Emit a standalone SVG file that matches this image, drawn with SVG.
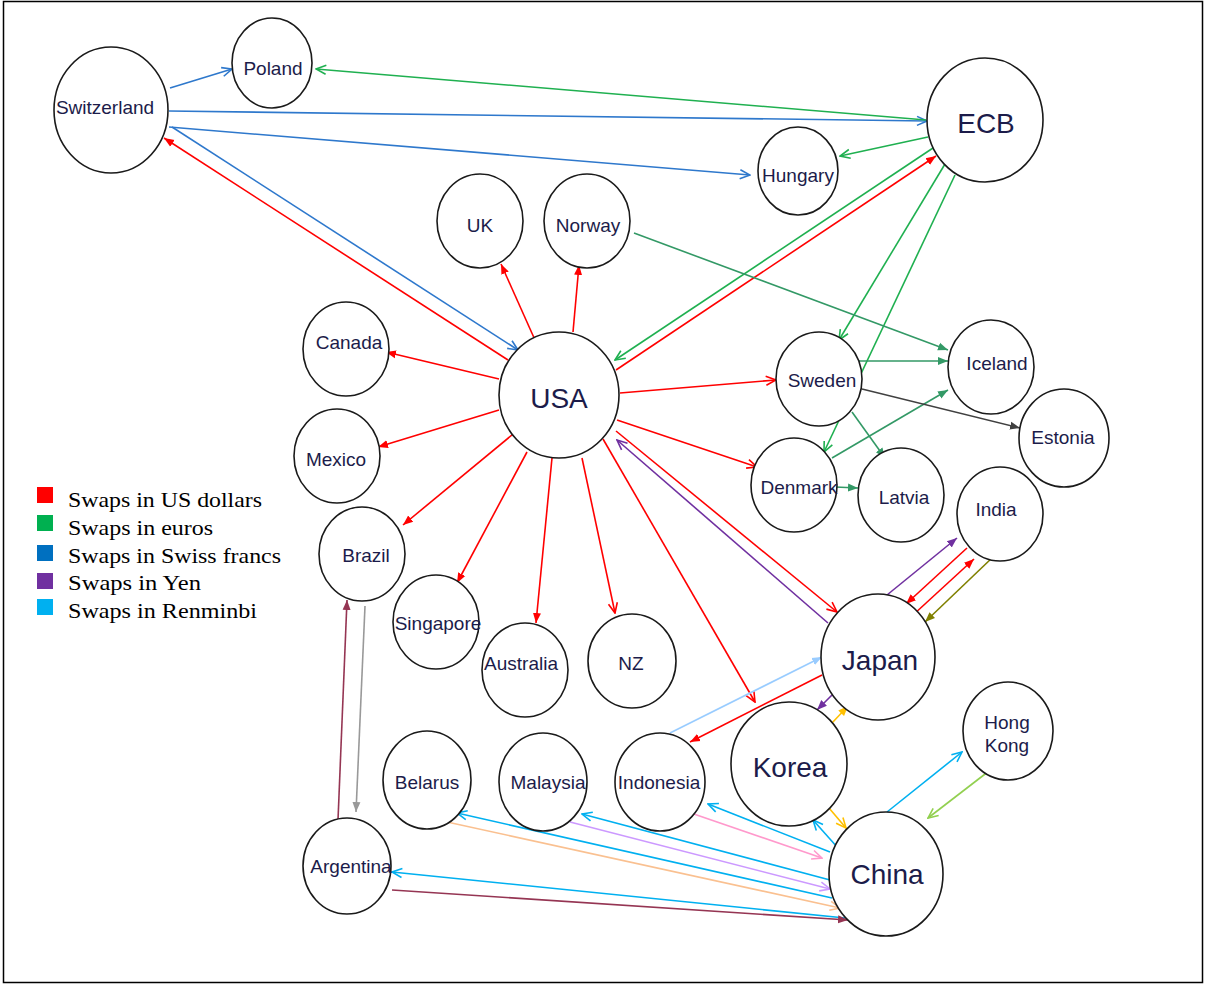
<svg xmlns="http://www.w3.org/2000/svg" width="1205" height="985" viewBox="0 0 1205 985">
<style>
.n ellipse{fill:#fff;stroke:#1a1a1a;stroke-width:1.6}
.n text{font-family:"Liberation Sans",Arial,sans-serif;font-size:19px;fill:#1c1c4a;text-anchor:middle}
.n text.b{font-size:28px}
#edges line{stroke-width:1.6;fill:none}
.R{stroke:#ff0000}.B{stroke:#2e78cc}.G{stroke:#1fb050}.SG{stroke:#339966}.DG{stroke:#404040}
.P{stroke:#7030a0}.LB{stroke:#99ccff}.Y{stroke:#ffc000}.C{stroke:#00b0f0}.LG{stroke:#92d050}
.PK{stroke:#ff99cc}.LV{stroke:#cc99ff}.PE{stroke:#fac090}.M{stroke:#953553}.GR{stroke:#999999}.OL{stroke:#808000}
.lg{font-family:"Liberation Serif","Times New Roman",serif;font-size:22px;fill:#000}
</style>
<defs>
<marker id="oB" viewBox="0 0 12 12" refX="11" refY="6" markerWidth="12" markerHeight="12" markerUnits="userSpaceOnUse" orient="auto"><path d="M1,1.5 L11,6 L1,10.5" fill="none" stroke="#2e78cc" stroke-width="1.6"/></marker>
<marker id="oG" viewBox="0 0 12 12" refX="11" refY="6" markerWidth="12" markerHeight="12" markerUnits="userSpaceOnUse" orient="auto"><path d="M1,1.5 L11,6 L1,10.5" fill="none" stroke="#1fb050" stroke-width="1.6"/></marker>
<marker id="oR" viewBox="0 0 12 12" refX="11" refY="6" markerWidth="12" markerHeight="12" markerUnits="userSpaceOnUse" orient="auto"><path d="M1,1.5 L11,6 L1,10.5" fill="none" stroke="#ff0000" stroke-width="1.6"/></marker>
<marker id="oP" viewBox="0 0 12 12" refX="11" refY="6" markerWidth="12" markerHeight="12" markerUnits="userSpaceOnUse" orient="auto"><path d="M1,1.5 L11,6 L1,10.5" fill="none" stroke="#7030a0" stroke-width="1.6"/></marker>
<marker id="oY" viewBox="0 0 12 12" refX="11" refY="6" markerWidth="12" markerHeight="12" markerUnits="userSpaceOnUse" orient="auto"><path d="M1,1.5 L11,6 L1,10.5" fill="none" stroke="#ffc000" stroke-width="1.6"/></marker>
<marker id="oC" viewBox="0 0 12 12" refX="11" refY="6" markerWidth="12" markerHeight="12" markerUnits="userSpaceOnUse" orient="auto"><path d="M1,1.5 L11,6 L1,10.5" fill="none" stroke="#00b0f0" stroke-width="1.6"/></marker>
<marker id="oLG" viewBox="0 0 12 12" refX="11" refY="6" markerWidth="12" markerHeight="12" markerUnits="userSpaceOnUse" orient="auto"><path d="M1,1.5 L11,6 L1,10.5" fill="none" stroke="#92d050" stroke-width="1.6"/></marker>
<marker id="oPK" viewBox="0 0 12 12" refX="11" refY="6" markerWidth="12" markerHeight="12" markerUnits="userSpaceOnUse" orient="auto"><path d="M1,1.5 L11,6 L1,10.5" fill="none" stroke="#ff99cc" stroke-width="1.6"/></marker>
<marker id="oLV" viewBox="0 0 12 12" refX="11" refY="6" markerWidth="12" markerHeight="12" markerUnits="userSpaceOnUse" orient="auto"><path d="M1,1.5 L11,6 L1,10.5" fill="none" stroke="#cc99ff" stroke-width="1.6"/></marker>
<marker id="oPE" viewBox="0 0 12 12" refX="11" refY="6" markerWidth="12" markerHeight="12" markerUnits="userSpaceOnUse" orient="auto"><path d="M1,1.5 L11,6 L1,10.5" fill="none" stroke="#fac090" stroke-width="1.6"/></marker>
<marker id="fR" viewBox="0 0 10 10" refX="10" refY="5" markerWidth="10" markerHeight="10" markerUnits="userSpaceOnUse" orient="auto"><path d="M0,1 L10,5 L0,9 Z" fill="#ff0000"/></marker>
<marker id="fSG" viewBox="0 0 10 10" refX="10" refY="5" markerWidth="10" markerHeight="10" markerUnits="userSpaceOnUse" orient="auto"><path d="M0,1 L10,5 L0,9 Z" fill="#339966"/></marker>
<marker id="fDG" viewBox="0 0 10 10" refX="10" refY="5" markerWidth="10" markerHeight="10" markerUnits="userSpaceOnUse" orient="auto"><path d="M0,1 L10,5 L0,9 Z" fill="#404040"/></marker>
<marker id="fP" viewBox="0 0 10 10" refX="10" refY="5" markerWidth="10" markerHeight="10" markerUnits="userSpaceOnUse" orient="auto"><path d="M0,1 L10,5 L0,9 Z" fill="#7030a0"/></marker>
<marker id="fLB" viewBox="0 0 10 10" refX="10" refY="5" markerWidth="10" markerHeight="10" markerUnits="userSpaceOnUse" orient="auto"><path d="M0,1 L10,5 L0,9 Z" fill="#99ccff"/></marker>
<marker id="fY" viewBox="0 0 10 10" refX="10" refY="5" markerWidth="10" markerHeight="10" markerUnits="userSpaceOnUse" orient="auto"><path d="M0,1 L10,5 L0,9 Z" fill="#ffc000"/></marker>
<marker id="fOL" viewBox="0 0 10 10" refX="10" refY="5" markerWidth="10" markerHeight="10" markerUnits="userSpaceOnUse" orient="auto"><path d="M0,1 L10,5 L0,9 Z" fill="#808000"/></marker>
<marker id="fM" viewBox="0 0 10 10" refX="10" refY="5" markerWidth="10" markerHeight="10" markerUnits="userSpaceOnUse" orient="auto"><path d="M0,1 L10,5 L0,9 Z" fill="#953553"/></marker>
<marker id="fGR" viewBox="0 0 10 10" refX="10" refY="5" markerWidth="10" markerHeight="10" markerUnits="userSpaceOnUse" orient="auto"><path d="M0,1 L10,5 L0,9 Z" fill="#999999"/></marker>
</defs>
<rect x="0" y="0" width="1205" height="985" fill="#fff"/>
<rect x="3.5" y="1.5" width="1199" height="981" fill="none" stroke="#000" stroke-width="1.5"/>

<g id="edges">
<line class="B" x1="170" y1="88" x2="232" y2="69" marker-end="url(#oB)"/>
<line class="B" x1="169" y1="111" x2="927" y2="121" marker-end="url(#oB)"/>
<line class="B" x1="169" y1="127" x2="750" y2="175" marker-end="url(#oB)"/>
<line class="B" x1="172" y1="127" x2="518" y2="350" marker-end="url(#oB)"/>
<line class="R" x1="508" y1="360" x2="164" y2="138" marker-end="url(#fR)"/>
<line class="G" x1="926" y1="120" x2="316" y2="69" marker-end="url(#oG)"/>
<line class="G" x1="928" y1="137" x2="840" y2="156" marker-end="url(#oG)"/>
<line class="G" x1="936" y1="146" x2="615" y2="360" marker-end="url(#oG)"/>
<line class="R" x1="616" y1="370" x2="936" y2="156" marker-end="url(#fR)"/>
<line class="G" x1="945" y1="164" x2="839" y2="340" marker-end="url(#oG)"/>
<line class="G" x1="955" y1="175" x2="824" y2="452" marker-end="url(#oG)"/>
<line class="SG" x1="634" y1="233" x2="948" y2="350" marker-end="url(#fSG)"/>
<line class="SG" x1="859" y1="361" x2="948" y2="361" marker-end="url(#fSG)"/>
<line class="SG" x1="832" y1="458" x2="948" y2="390" marker-end="url(#fSG)"/>
<line class="DG" x1="862" y1="389" x2="1020" y2="428" marker-end="url(#fDG)"/>
<line class="SG" x1="852" y1="412" x2="885" y2="458" marker-end="url(#fSG)"/>
<line class="SG" x1="835" y1="487" x2="858" y2="488" marker-end="url(#fSG)"/>
<line class="R" x1="535" y1="340" x2="501" y2="264" marker-end="url(#fR)"/>
<line class="R" x1="573" y1="332" x2="579" y2="265" marker-end="url(#fR)"/>
<line class="R" x1="499" y1="379" x2="386" y2="352" marker-end="url(#fR)"/>
<line class="R" x1="499" y1="410" x2="378" y2="447" marker-end="url(#fR)"/>
<line class="R" x1="620" y1="393" x2="776" y2="380" marker-end="url(#oR)"/>
<line class="R" x1="617" y1="420" x2="757" y2="467" marker-end="url(#oR)"/>
<line class="R" x1="616" y1="431" x2="837" y2="612" marker-end="url(#oR)"/>
<line class="P" x1="828" y1="623" x2="617" y2="440" marker-end="url(#oP)"/>
<line class="R" x1="603" y1="439" x2="755" y2="702" marker-end="url(#oR)"/>
<line class="R" x1="582" y1="458" x2="615" y2="613" marker-end="url(#oR)"/>
<line class="R" x1="552" y1="458" x2="536" y2="623" marker-end="url(#fR)"/>
<line class="R" x1="527" y1="452" x2="457" y2="583" marker-end="url(#fR)"/>
<line class="R" x1="518" y1="430" x2="403" y2="525" marker-end="url(#fR)"/>
<line class="R" x1="822" y1="675" x2="690" y2="742" marker-end="url(#fR)"/>
<line class="LB" x1="670" y1="733" x2="822" y2="657" marker-end="url(#fLB)"/>
<line class="P" x1="832" y1="695" x2="817" y2="710" marker-end="url(#fP)"/>
<line class="Y" x1="832" y1="723" x2="848" y2="706" marker-end="url(#fY)"/>
<line class="P" x1="887" y1="595" x2="957" y2="538" marker-end="url(#fP)"/>
<line class="R" x1="967" y1="548" x2="906" y2="604" marker-end="url(#fR)"/>
<line class="R" x1="913" y1="615" x2="974" y2="559" marker-end="url(#fR)"/>
<line class="OL" x1="993" y1="557" x2="925" y2="622" marker-end="url(#fOL)"/>
<line class="Y" x1="829" y1="808" x2="846" y2="828" marker-end="url(#oY)"/>
<line class="C" x1="838" y1="848" x2="813" y2="820" marker-end="url(#oC)"/>
<line class="C" x1="887" y1="812" x2="962" y2="752" marker-end="url(#oC)"/>
<line class="LG" x1="989" y1="771" x2="928" y2="818" marker-end="url(#oLG)"/>
<line class="C" x1="830" y1="852" x2="708" y2="804" marker-end="url(#oC)"/>
<line class="PK" x1="688" y1="812" x2="822" y2="858" marker-end="url(#oPK)"/>
<line class="C" x1="830" y1="880" x2="582" y2="814" marker-end="url(#oC)"/>
<line class="LV" x1="570" y1="822" x2="830" y2="889" marker-end="url(#oLV)"/>
<line class="C" x1="832" y1="898" x2="457" y2="813" marker-end="url(#oC)"/>
<line class="PE" x1="447" y1="822" x2="840" y2="908" marker-end="url(#oPE)"/>
<line class="C" x1="845" y1="918" x2="392" y2="872" marker-end="url(#oC)"/>
<line class="M" x1="392" y1="890" x2="848" y2="920" marker-end="url(#fM)"/>
<line class="M" x1="338" y1="820" x2="347" y2="600" marker-end="url(#fM)"/>
<line class="GR" x1="365" y1="606" x2="356" y2="812" marker-end="url(#fGR)"/>
</g>

<g id="switzerland" class="n"><ellipse cx="111" cy="110" rx="57" ry="63"/><text x="105" y="114">Switzerland</text></g>
<g id="poland" class="n"><ellipse cx="272" cy="63" rx="40" ry="45"/><text x="273" y="75">Poland</text></g>
<g id="ecb" class="n"><ellipse cx="985" cy="120" rx="58" ry="62"/><text class="b" x="986" y="133">ECB</text></g>
<g id="hungary" class="n"><ellipse cx="798" cy="171" rx="40" ry="44"/><text x="798" y="182">Hungary</text></g>
<g id="uk" class="n"><ellipse cx="480" cy="221" rx="43" ry="47"/><text x="480" y="232">UK</text></g>
<g id="norway" class="n"><ellipse cx="587" cy="221" rx="43" ry="47"/><text x="588" y="232">Norway</text></g>
<g id="canada" class="n"><ellipse cx="346" cy="349" rx="43" ry="47"/><text x="349" y="349">Canada</text></g>
<g id="mexico" class="n"><ellipse cx="337" cy="456" rx="43" ry="47"/><text x="336" y="466">Mexico</text></g>
<g id="usa" class="n"><ellipse cx="559" cy="395" rx="60" ry="63"/><text class="b" x="559" y="408">USA</text></g>
<g id="sweden" class="n"><ellipse cx="819" cy="379" rx="43" ry="47"/><text x="822" y="387">Sweden</text></g>
<g id="iceland" class="n"><ellipse cx="991" cy="367" rx="43" ry="47"/><text x="997" y="370">Iceland</text></g>
<g id="estonia" class="n"><ellipse cx="1064" cy="438" rx="45" ry="49"/><text x="1063" y="444">Estonia</text></g>
<g id="denmark" class="n"><ellipse cx="794" cy="485" rx="43" ry="47"/><text x="799" y="494">Denmark</text></g>
<g id="latvia" class="n"><ellipse cx="901" cy="495" rx="43" ry="47"/><text x="904" y="504">Latvia</text></g>
<g id="india" class="n"><ellipse cx="1000" cy="514" rx="43" ry="47"/><text x="996" y="516">India</text></g>
<g id="brazil" class="n"><ellipse cx="362" cy="554" rx="43" ry="47"/><text x="366" y="562">Brazil</text></g>
<g id="singapore" class="n"><ellipse cx="436" cy="622" rx="43" ry="47"/><text x="438" y="630">Singapore</text></g>
<g id="australia" class="n"><ellipse cx="525" cy="670" rx="43" ry="47"/><text x="521" y="670">Australia</text></g>
<g id="nz" class="n"><ellipse cx="632" cy="661" rx="44" ry="47"/><text x="631" y="670">NZ</text></g>
<g id="japan" class="n"><ellipse cx="878" cy="657" rx="57" ry="63"/><text class="b" x="880" y="670">Japan</text></g>
<g id="hongkong" class="n"><ellipse cx="1008" cy="731" rx="45" ry="49"/><text x="1007" y="729">Hong</text><text x="1007" y="752">Kong</text></g>
<g id="korea" class="n"><ellipse cx="789" cy="764" rx="58" ry="62"/><text class="b" x="790" y="777">Korea</text></g>
<g id="china" class="n"><ellipse cx="886" cy="874" rx="57" ry="62"/><text class="b" x="887" y="884">China</text></g>
<g id="belarus" class="n"><ellipse cx="427" cy="780" rx="44" ry="49"/><text x="427" y="789">Belarus</text></g>
<g id="malaysia" class="n"><ellipse cx="543" cy="782" rx="44" ry="49"/><text x="548" y="789">Malaysia</text></g>
<g id="indonesia" class="n"><ellipse cx="660" cy="782" rx="45" ry="49"/><text x="659" y="789">Indonesia</text></g>
<g id="argentina" class="n"><ellipse cx="347" cy="866" rx="44" ry="48"/><text x="351" y="873">Argentina</text></g>

<g id="legend">
<rect x="37" y="487" width="16" height="16" fill="#ff0000"/>
<rect x="37" y="515" width="16" height="16" fill="#00b050"/>
<rect x="37" y="545" width="16" height="16" fill="#0070c0"/>
<rect x="37" y="573" width="16" height="16" fill="#7030a0"/>
<rect x="37" y="599" width="16" height="16" fill="#00b0f0"/>
<text class="lg" x="68" y="507" textLength="194" lengthAdjust="spacingAndGlyphs">Swaps in US dollars</text>
<text class="lg" x="68" y="535" textLength="145" lengthAdjust="spacingAndGlyphs">Swaps in euros</text>
<text class="lg" x="68" y="563" textLength="213" lengthAdjust="spacingAndGlyphs">Swaps in Swiss francs</text>
<text class="lg" x="68" y="590" textLength="133" lengthAdjust="spacingAndGlyphs">Swaps in Yen</text>
<text class="lg" x="68" y="618" textLength="189" lengthAdjust="spacingAndGlyphs">Swaps in Renminbi</text>
</g>
</svg>
